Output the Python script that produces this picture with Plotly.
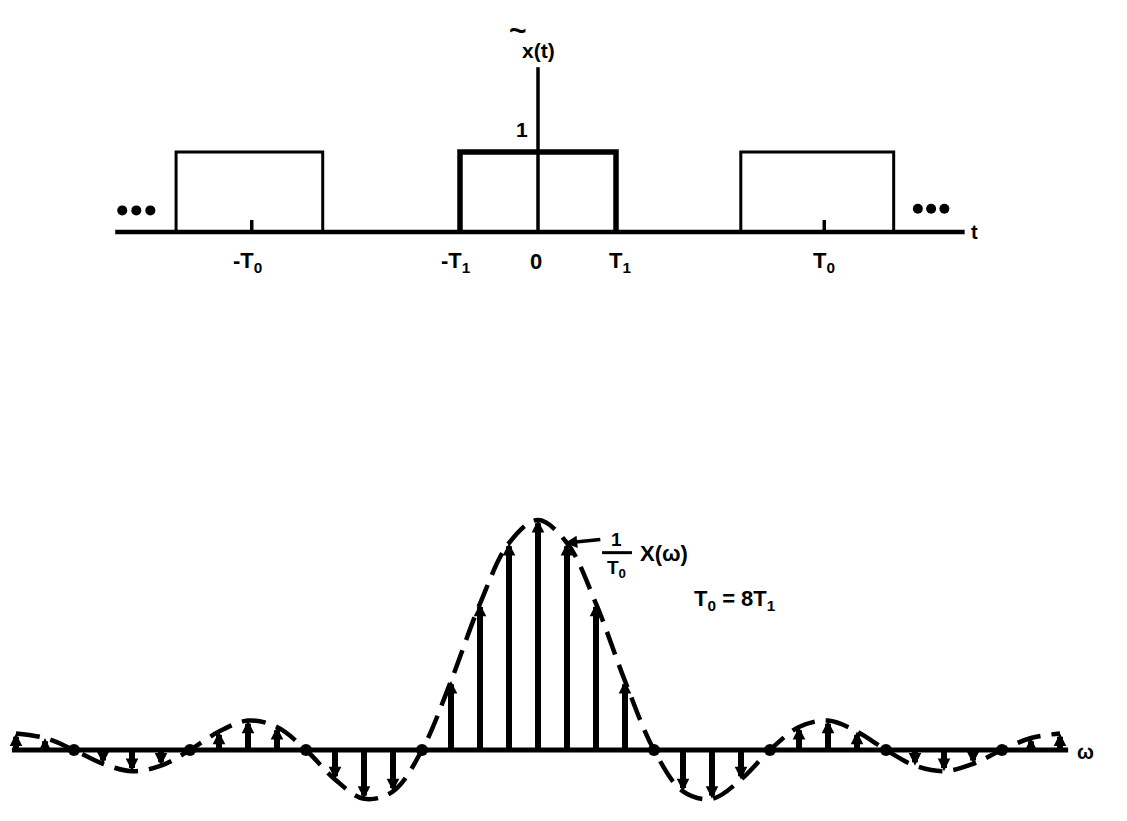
import plotly.graph_objects as go

# ---------------- top panel data (time in units of T1) ----------------
T1 = 1.0
T0 = 3.67
pulse_left = [-4.64, -2.76]
pulse_center = [-1.0, 1.0]
pulse_right = [2.60, 4.56]
pulse_height = 1.0
t_axis_ends = [-5.42, 5.47]
y_axis_top = 2.06
tick_height = 0.15
dots_left_t = [-5.33, -5.15, -4.97]
dots_right_t = [4.87, 5.04, 5.21]
dots_left_y = 0.27
dots_right_y = 0.29
t_tick_labels = ["-T<sub>0</sub>", "-T<sub>1</sub>", "0", "T<sub>1</sub>", "T<sub>0</sub>"]
t_tick_pos = [-T0 - 0.05, -T1 - 0.05, -0.03, T1 + 0.05, T0]

# ---------------- bottom panel data (Fourier coefficients, T0 = 8 T1) ----------------
k_vals = list(range(-18, 19))
a_k = [0.018, 0.013, 0.0, -0.015, -0.023, -0.017, 0.0, 0.020, 0.032, 0.025, 0.0,
       -0.032, -0.053, -0.045, 0.0, 0.075, 0.159, 0.225, 0.250, 0.225, 0.159, 0.075,
       0.0, -0.045, -0.053, -0.032, 0.0, 0.025, 0.032, 0.020, 0.0, -0.017, -0.023,
       -0.015, 0.0, 0.013, 0.018]
w_axis_ends = [-18.14, 18.28]

FONT = "Liberation Sans"
BLACK = "black"

fig = go.Figure()

# ---- top panel ----
def pulse(edges, width):
    a, b = edges
    fig.add_trace(go.Scatter(x=[a, a, b, b], y=[0, pulse_height, pulse_height, 0],
                             mode="lines", line=dict(color=BLACK, width=width),
                             xaxis="x", yaxis="y", hoverinfo="skip"))

fig.add_trace(go.Scatter(x=t_axis_ends, y=[0, 0], mode="lines",
                         line=dict(color=BLACK, width=4.5), xaxis="x", yaxis="y"))
fig.add_trace(go.Scatter(x=[0, 0], y=[0, y_axis_top], mode="lines",
                         line=dict(color=BLACK, width=3.5), xaxis="x", yaxis="y"))
pulse(pulse_left, 3)
pulse(pulse_right, 3)
pulse(pulse_center, 5.5)
for tt in [-T0, T0]:
    fig.add_trace(go.Scatter(x=[tt, tt], y=[0, tick_height], mode="lines",
                             line=dict(color=BLACK, width=3.5), xaxis="x", yaxis="y"))
fig.add_trace(go.Scatter(x=dots_left_t, y=[dots_left_y] * 3, mode="markers",
                         marker=dict(color=BLACK, size=10), xaxis="x", yaxis="y"))
fig.add_trace(go.Scatter(x=dots_right_t, y=[dots_right_y] * 3, mode="markers",
                         marker=dict(color=BLACK, size=10), xaxis="x", yaxis="y"))

# ---- bottom panel ----
fig.add_trace(go.Scatter(x=w_axis_ends, y=[0, 0], mode="lines",
                         line=dict(color=BLACK, width=5), xaxis="x2", yaxis="y2"))
fig.add_trace(go.Scatter(x=k_vals, y=a_k, mode="lines",
                         line=dict(color=BLACK, width=4.5, shape="spline", smoothing=1.0,
                                   dash="24px,11px"),
                         xaxis="x2", yaxis="y2"))
zk = [k for k, v in zip(k_vals, a_k) if v == 0 and k != 0]
fig.add_trace(go.Scatter(x=zk, y=[0] * len(zk), mode="markers",
                         marker=dict(color=BLACK, size=12), xaxis="x2", yaxis="y2"))

annotations = []
for k, v in zip(k_vals, a_k):
    if v == 0:
        continue
    annotations.append(dict(x=k, y=v, xref="x2", yref="y2", ax=k, ay=0,
                            axref="x2", ayref="y2", showarrow=True, text="",
                            arrowhead=2, arrowsize=0.42, arrowwidth=6,
                            arrowcolor=BLACK, standoff=0, startstandoff=0))

def label(x, y, text, xref="x", yref="y", size=21, xanchor="center", yanchor="middle"):
    annotations.append(dict(x=x, y=y, xref=xref, yref=yref, text=text, showarrow=False,
                            font=dict(family=FONT, size=size, color=BLACK),
                            xanchor=xanchor, yanchor=yanchor))

# top labels
for pos, txt in zip(t_tick_pos, t_tick_labels):
    label(pos, -0.37, "<b>" + txt + "</b>", size=22)
label(5.52, 0.0, "<b>t</b>", size=20, xanchor="left")
label(-0.1, 1.28, "<b>1</b>", size=21, xanchor="right")
label(0.01, 2.27, "<b>x(t)</b>", size=21)
label(-0.26, 2.52, "<b>~</b>", size=30)

# bottom labels
label(18.5, -0.002, "<b>ω</b>", xref="x2", yref="y2", size=20, xanchor="left")
label(2.72, 0.229, "<b>1</b>", xref="x2", yref="y2", size=19)
label(2.72, 0.197, "<b>T<sub>0</sub></b>", xref="x2", yref="y2", size=19)
label(3.45, 0.214, "<b>X(ω)</b>", xref="x2", yref="y2", size=22, xanchor="left")
label(5.3, 0.163, "<b>T<sub>0</sub> = 8T<sub>1</sub></b>", xref="x2", yref="y2", size=22,
      xanchor="left")
# pointer to envelope
annotations.append(dict(x=0.93, y=0.225, xref="x2", yref="y2", ax=2.2, ay=0.229,
                        axref="x2", ayref="y2", showarrow=True, text="",
                        arrowhead=2, arrowsize=0.7, arrowwidth=3.5, arrowcolor=BLACK,
                        standoff=0))

shapes = [dict(type="line", xref="x2", yref="y2", x0=2.21, x1=3.24, y0=0.2145, y1=0.2145,
               line=dict(color=BLACK, width=3))]

fig.update_layout(
    width=1127, height=821,
    margin=dict(l=0, r=0, t=0, b=0),
    paper_bgcolor="white", plot_bgcolor="white",
    showlegend=False,
    annotations=annotations,
    shapes=shapes,
    xaxis=dict(domain=[0, 1], range=[-538 / 78, 589 / 78], visible=False),
    yaxis=dict(domain=[(821 - 300) / 821, (821 - 5) / 821], range=[-0.85, 227 / 80],
               visible=False, anchor="x"),
    xaxis2=dict(domain=[0, 1], range=[-538 / 29, 589 / 29], visible=False, anchor="y2"),
    yaxis2=dict(domain=[0, (821 - 470) / 821], range=[-71 / 920, 280 / 920],
                visible=False, anchor="x2"),
)

fig.write_html("out.html", config={"displayModeBar": False},
               post_script="document.body.style.margin='0';document.body.style.overflow='hidden';")
